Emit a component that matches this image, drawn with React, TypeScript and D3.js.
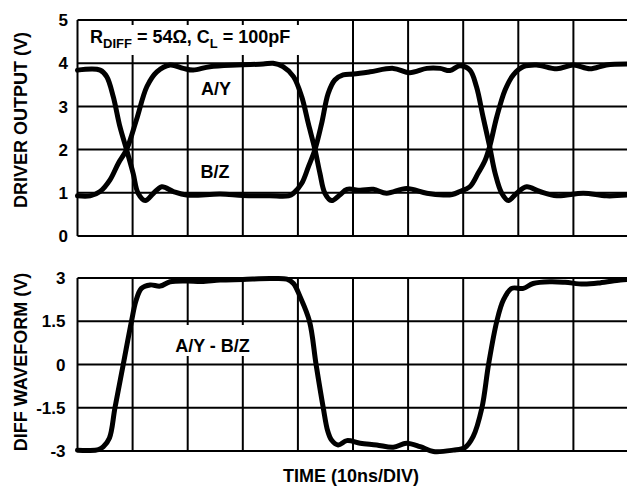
import React from "react";
import * as d3 from "d3";

// ---- Data (time in ns, 10 ns/div; voltages in V) ----
const timeDomain: [number, number] = [0, 100];
const topTicks = [0, 1, 2, 3, 4, 5];
const bottomTicks = [-3, -1.5, 0, 1.5, 3];
const bottomTickLabels = ["-3", "-1.5", "0", "1.5", "3"];
const timeGrid = [0, 10, 20, 30, 40, 50, 60, 70, 80, 90, 100];

const ayPoints: [number, number][] = [
  [0, 0.93], [2.3, 0.93], [4.1, 1.03], [5.9, 1.3], [7.4, 1.68], [8.9, 2.0], [10.7, 2.69],
  [12.6, 3.46], [14.4, 3.8], [16.8, 3.96], [19.2, 3.88], [21, 3.84], [24, 3.92], [28.9, 3.96],
  [33.7, 3.98], [35.5, 4.0], [37.3, 3.92], [39.2, 3.69], [40.7, 3.22], [41.9, 2.6], [43.1, 2.0],
  [44.0, 1.45], [44.9, 0.99], [46.1, 0.82], [47.6, 0.95], [48.9, 1.08], [51.3, 1.06], [53.7, 1.08],
  [56.1, 0.99], [59.7, 1.1], [63.4, 0.99], [66.4, 0.95], [68.0, 0.96], [69.4, 1.03], [71.2, 1.14],
  [72.7, 1.45], [74.0, 1.76], [74.8, 2.07], [76.1, 2.76], [77.6, 3.38], [79.1, 3.73], [80.9, 3.92],
  [83.3, 3.96], [87.0, 3.87], [90, 3.96], [93, 3.87], [96, 3.96], [100, 3.98],
];

const bzPoints: [number, number][] = [
  [0, 3.84], [4.1, 3.84], [5.3, 3.69], [6.5, 3.22], [7.7, 2.53], [8.9, 2.0], [10.1, 1.45],
  [11.0, 0.99], [12.3, 0.82], [13.8, 0.99], [15.3, 1.14], [17.4, 1.03], [19.8, 0.95], [25.9, 0.97],
  [30, 0.94], [34.9, 0.93], [38.3, 0.93], [39.2, 0.99], [40.7, 1.22], [41.9, 1.6], [43.1, 2.0],
  [44.3, 2.6], [45.5, 3.3], [46.7, 3.61], [48.2, 3.73], [50.1, 3.75], [53.1, 3.8], [57.3, 3.88],
  [60.3, 3.78], [63.4, 3.88], [65.8, 3.88], [67.6, 3.83], [69.4, 3.94], [71.2, 3.84], [72.4, 3.46],
  [73.6, 2.76], [74.8, 2.07], [75.8, 1.45], [77.0, 0.99], [78.2, 0.82], [79.7, 0.99], [81.5, 1.14],
  [83.9, 1.03], [87.0, 0.93], [91.8, 0.99], [96.0, 0.93], [100, 0.95],
];

const diffPoints: [number, number][] = [
  [0, -2.97], [2, -2.98], [3.8, -2.95], [4.7, -2.85], [5.8, -2.55], [6.8, -1.5], [8.3, 0],
  [9.8, 1.5], [10.6, 2.2], [11.6, 2.64], [13.2, 2.76], [15, 2.72], [16.8, 2.87], [19.8, 2.9],
  [22.5, 2.88], [25.9, 2.93], [30, 2.95], [34.9, 2.98], [38, 2.96], [39.2, 2.81], [40.4, 2.35],
  [42.1, 1.5], [43.3, 0], [44.6, -1.5], [45.4, -2.3], [46.1, -2.62], [47.3, -2.79], [48.9, -2.64],
  [51.3, -2.73], [54.3, -2.79], [57.3, -2.87], [59.7, -2.73], [62.2, -2.85], [64.6, -3.02],
  [68.2, -2.97], [70.3, -2.88], [71.8, -2.5], [73.4, -1.5], [74.6, 0], [76.1, 1.5], [77.3, 2.24],
  [78.8, 2.64], [80.9, 2.64], [82.7, 2.81], [85.8, 2.87], [88.5, 2.85], [91.8, 2.79], [94.8, 2.83],
  [98.5, 2.93], [100, 2.95],
];

const FONT = "'Liberation Sans', Arial, Helvetica, sans-serif";

export default function App() {
  const x = d3.scaleLinear().domain(timeDomain).range([77.5, 628.5]);
  const yTop = d3.scaleLinear().domain([0, 5]).range([236, 20]);
  const yBot = d3.scaleLinear().domain([-3, 3]).range([451, 278]);

  const curve = d3.curveCatmullRom.alpha(0.5);
  const lineTop = d3
    .line<[number, number]>()
    .x((d) => x(d[0]))
    .y((d) => yTop(d[1]))
    .curve(curve);
  const lineBot = d3
    .line<[number, number]>()
    .x((d) => x(d[0]))
    .y((d) => yBot(d[1]))
    .curve(curve);

  const gridStroke = 2;

  const panel = (
    y: d3.ScaleLinear<number, number>,
    ticks: number[],
    labels: string[],
    labelX: number,
    key: string
  ) => {
    const [y0, y1] = y.range();
    return (
      <g key={key}>
        {timeGrid.map((t) => (
          <line
            key={"v" + t}
            x1={x(t)}
            x2={x(t)}
            y1={y0}
            y2={y1}
            stroke="#000"
            strokeWidth={gridStroke}
          />
        ))}
        {ticks.map((v) => (
          <line
            key={"h" + v}
            x1={x(0)}
            x2={x(100)}
            y1={y(v)}
            y2={y(v)}
            stroke="#000"
            strokeWidth={gridStroke}
          />
        ))}
        {ticks.map((v, i) => (
          <text
            key={"t" + v}
            x={labelX}
            y={y(v)}
            dy="0.36em"
            textAnchor="end"
            fontFamily={FONT}
            fontWeight="bold"
            fontSize={17}
            fill="#000"
          >
            {labels[i]}
          </text>
        ))}
      </g>
    );
  };

  return (
    <svg
      width={627}
      height={489}
      style={{ position: "absolute", left: 0, top: 0, background: "#fff" }}
    >
      <rect x={0} y={0} width={627} height={489} fill="#fff" />
      {panel(yTop, topTicks, topTicks.map(String), 68, "top")}
      {panel(yBot, bottomTicks, bottomTickLabels, 65.5, "bot")}

      {/* label background boxes */}
      <rect x={84} y={25} width={228} height={30} fill="#fff" />
      <rect x={165} y={325} width={95} height={31} fill="#fff" />

      <path d={lineTop(ayPoints) || ""} fill="none" stroke="#000" strokeWidth={5} strokeLinejoin="round" strokeLinecap="round" />
      <path d={lineTop(bzPoints) || ""} fill="none" stroke="#000" strokeWidth={5} strokeLinejoin="round" strokeLinecap="round" />
      <path d={lineBot(diffPoints) || ""} fill="none" stroke="#000" strokeWidth={5} strokeLinejoin="round" strokeLinecap="round" />

      <g fontFamily={FONT} fontWeight="bold" fill="#000">
        <text x={90} y={43} fontSize={18}>
          R<tspan fontSize={13} dy={5}>DIFF</tspan>
          <tspan dy={-5}> = 54Ω, C</tspan>
          <tspan fontSize={13} dy={5}>L</tspan>
          <tspan dy={-5}> = 100pF</tspan>
        </text>
        <text x={216} y={95} fontSize={18} textAnchor="middle">A/Y</text>
        <text x={215} y={178} fontSize={18} textAnchor="middle">B/Z</text>
        <text x={212.5} y={352} fontSize={18} textAnchor="middle">A/Y - B/Z</text>
        <text x={351} y={482} fontSize={18} textAnchor="middle">TIME (10ns/DIV)</text>
        <text transform="translate(27,120) rotate(-90)" fontSize={18} textAnchor="middle">DRIVER OUTPUT (V)</text>
        <text transform="translate(27,362) rotate(-90)" fontSize={18} textAnchor="middle">DIFF WAVEFORM (V)</text>
      </g>
    </svg>
  );
}
